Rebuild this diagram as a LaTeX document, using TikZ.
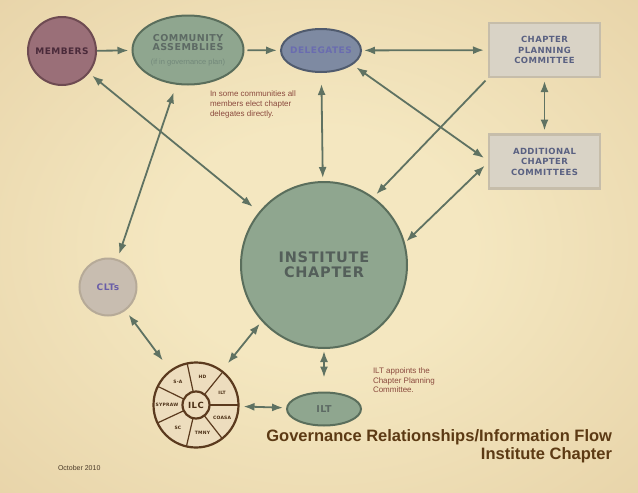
\documentclass[tikz,border=0pt]{standalone}
\usepackage{fontspec}
\setmainfont{Liberation Sans}
\newfontfamily\lblfont[LetterSpace=5]{DejaVu Sans}
\usetikzlibrary{shapes.geometric,arrows.meta,calc}

\definecolor{papin}{HTML}{F4E7C0}
\definecolor{papout}{HTML}{DBC091}
\definecolor{linkc}{HTML}{5F7262}
\definecolor{memfill}{HTML}{9A6F78}
\definecolor{memline}{HTML}{6E4B52}
\definecolor{memtext}{HTML}{4A2A3A}
\definecolor{sagefill}{HTML}{8FA68F}
\definecolor{sageline}{HTML}{5A6E5C}
\definecolor{sagetext}{HTML}{5D6A64}
\definecolor{sagedim}{HTML}{72887A}
\definecolor{delfill}{HTML}{7E8AA2}
\definecolor{delline}{HTML}{505B6E}
\definecolor{deltext}{HTML}{6A6CB0}
\definecolor{boxfill}{HTML}{D9D3C6}
\definecolor{boxline}{HTML}{C6BDAA}
\definecolor{boxtext}{HTML}{5A6182}
\definecolor{cltfill}{HTML}{C8BDB0}
\definecolor{cltline}{HTML}{B6AA98}
\definecolor{clttext}{HTML}{6A5EA8}
\definecolor{wheelfill}{HTML}{EDDDBE}
\definecolor{wheelline}{HTML}{5B3A1E}
\definecolor{wheeltext}{HTML}{4A2E14}
\definecolor{notetext}{HTML}{8B4A3E}
\definecolor{datetext}{HTML}{4A3A28}
\definecolor{titletext}{HTML}{5C3A14}

\pgfdeclareradialshading{paper}{\pgfpoint{0bp}{0bp}}{color(0bp)=(papin); color(12bp)=(papin); color(62bp)=(papout); color(72bp)=(papout)}

\begin{document}
\begin{tikzpicture}[x=1pt,y=-1pt,
  every node/.style={inner sep=0pt,outer sep=0pt},
  member/.style={circle,fill=memfill,draw=memline,line width=2pt,minimum size=68pt,
    text=memtext,font=\lblfont\bfseries\fontsize{9}{10}\selectfont},
  sage/.style={ellipse,fill=sagefill,draw=sageline,line width=2pt,text=sagetext,align=center},
  committee/.style={rectangle,fill=boxfill,draw=boxline,line width=2.5pt,
    minimum width=111pt,minimum height=54pt,text=boxtext,align=center,
    font=\lblfont\bfseries\fontsize{8.5}{10.5}\selectfont},
  segtext/.style={text=wheeltext,font=\lblfont\bfseries\fontsize{4.5}{5}\selectfont},
  note/.style={text=notetext,align=left,font=\fontsize{8}{10}\selectfont},
  link/.style={draw=linkc,line width=1.8pt,
    {Latex[length=11pt,width=8pt]}-{Latex[length=11pt,width=8pt]},
    shorten <=4pt,shorten >=4pt},
  oneway/.style={link,-{Latex[length=11pt,width=8pt]}}]

  % Paper background and frame
  \shade[shading=paper] (0,0) rectangle (638,493);
  \useasboundingbox (0,0) rectangle (638,493);

  % Top row
  \node[member] (mem) at (62,51) {MEMBERS};
  \node[sage,minimum width=111pt,minimum height=69pt,
    font=\lblfont\bfseries\fontsize{9.5}{9.6}\selectfont] (ca) at (188,50)
    {COMMUNITY\\ASSEMBLIES\\[4pt]{\normalfont\fontsize{7.5}{8}\selectfont\color{sagedim}(if in governance plan)}};
  \node[ellipse,fill=delfill,draw=delline,line width=2pt,minimum width=80pt,minimum height=43pt,
    inner xsep=-4pt,text=deltext,font=\lblfont\bfseries\fontsize{9}{10}\selectfont] (del) at (321,50.5) {DELEGATES};

  % Committees
  \node[committee] (cpc) at (544.5,50) {CHAPTER\\PLANNING\\COMMITTEE};
  \node[committee] (acc) at (544.5,161.5) {ADDITIONAL\\CHAPTER\\COMMITTEES};

  % Chapter, CLTs and ILT
  \node[circle,fill=sagefill,draw=sageline,line width=2pt,minimum size=166pt,
    text=sagetext!90!black,align=center,font=\lblfont\bfseries\fontsize{14.5}{15}\selectfont]
    (ic) at (324,265) {INSTITUTE\\CHAPTER};
  \node[circle,fill=cltfill,draw=cltline,line width=2pt,minimum size=57pt,
    text=clttext,font=\lblfont\bfseries\fontsize{9}{10}\selectfont] (clt) at (108,287) {CLTs};
  \node[sage,minimum width=74pt,minimum height=33pt,
    font=\lblfont\bfseries\fontsize{9.5}{10}\selectfont] (ilt) at (324,409) {ILT};

  % ILC wheel
  \node[circle,fill=wheelfill,draw=wheelline,line width=2.2pt,minimum size=85pt] (ilc) at (196,405) {};
  \foreach \a [evaluate=\a as \ang using \a*360/7] in {0,...,6}
    \draw[wheelline,line width=1.2pt] (ilc.center) -- (ilc.\ang);
  \node[circle,fill=wheelfill,draw=wheelline,line width=2.2pt,minimum size=27pt,
    text=wheeltext,font=\lblfont\bfseries\fontsize{8.5}{9}\selectfont] (ilccore) at (ilc) {ILC};
  \foreach \txt [count=\i] in {ILT,HD,S-A,SYPRAW,SC,TMNY,COASA}
    \node[segtext] (seg\i) at ($(ilc)+({(\i-0.5)*360/7}:29pt)$) {\txt};

  % Connectors
  \draw[oneway,shorten <=1pt] (mem) -- (ca);
  \draw[oneway] (ca) -- (del);
  \draw[link,shorten <=3pt,shorten >=5pt] (del) -- (cpc);
  \draw[link] (cpc) -- (acc);
  \draw[link,shorten <=5.5pt,shorten >=6pt] (del.-24) -- (acc.west);
  \draw[oneway,shorten <=5pt,shorten >=5pt] (cpc.south west) -- (ic.54);
  \draw[link,shorten <=3pt,shorten >=6pt] (ic.15) -- (acc.west);
  \draw[link,shorten <=12pt,shorten >=4pt] (del) -- (ic);
  \draw[link,shorten <=5pt,shorten >=9pt] (mem) -- (ic);
  \draw[link,shorten <=9pt,shorten >=6pt] (ca) -- (clt);
  \draw[link,shorten <=6pt,shorten >=13pt] (clt) -- (ilc);
  \draw[link,shorten <=4pt,shorten >=10pt] (ic.222) -- (ilc.53);
  \draw[link,shorten <=3pt,shorten >=15pt] (ic) -- (ilt);
  \draw[link,shorten <=5pt,shorten >=4pt] (ilc) -- (ilt);

  % Notes
  \node[note,anchor=north west] (elect) at (210,91)
    {In some communities all\\members elect chapter\\delegates directly.};
  \node[note,anchor=north west,font=\fontsize{8}{9.4}\selectfont] (appoint) at (373,368)
    {ILT appoints the\\Chapter Planning\\Committee.};

  % Title and date
  \node[anchor=base east,text=titletext,font=\bfseries\fontsize{16.5}{18}\selectfont]
    (title1) at (612,441) {Governance Relationships/Information Flow};
  \node[anchor=base east,text=titletext,font=\bfseries\fontsize{16.5}{18}\selectfont]
    (title2) at (612,459.3) {Institute Chapter};
  \node[anchor=base west,text=datetext,font=\fontsize{7}{8}\selectfont] (date) at (58,470) {October 2010};
\end{tikzpicture}
\end{document}
